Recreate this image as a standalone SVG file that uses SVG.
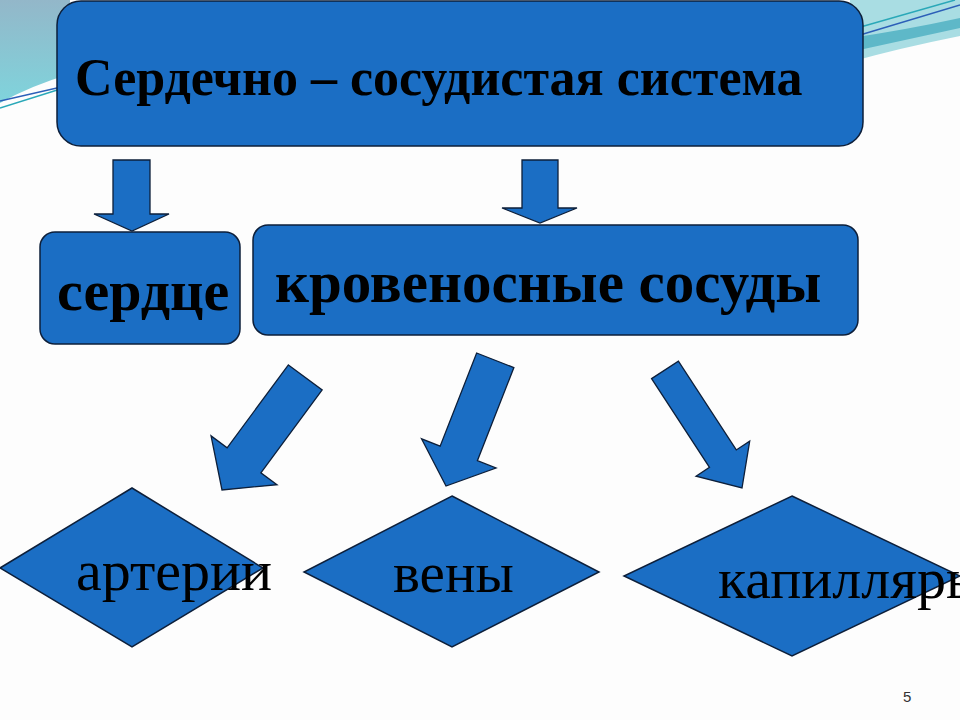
<svg xmlns="http://www.w3.org/2000/svg" width="960" height="720" viewBox="0 0 960 720">
  <defs>
    <linearGradient id="tl" x1="0" y1="0" x2="0" y2="1">
      <stop offset="0" stop-color="#93b7c9"/>
      <stop offset="1" stop-color="#7fd4dc"/>
    </linearGradient>
    <style>
      .box { fill: #1b6ec4; stroke: #0d1f3a; stroke-width: 1.5; }
      .arr { fill: #1b6ec4; stroke: #0d1f3a; stroke-width: 1.3; stroke-linejoin: miter; }
      .bold { font-family: "Liberation Serif", "Times New Roman", serif; font-weight: bold; fill: #000; }
      .reg { font-family: "Liberation Serif", "Times New Roman", serif; fill: #000; }
    </style>
  </defs>
  <rect width="960" height="720" fill="#fdfdfd"/>
  <g id="decor">
    <path d="M0,0 L70,0 L70,74 Q30,86 0,103 Z" fill="url(#tl)"/>
    <path d="M0,101 L70,85" stroke="#2c5fb8" stroke-width="1.5" fill="none"/>
    <path d="M0,108 L70,86" stroke="#2aa8b8" stroke-width="1.5" fill="none"/>
    <path d="M850,0 L960,0 L960,36 Q900,48 850,62 Z" fill="#a9dde3"/>
    <path d="M850,38 Q905,30 960,18 L960,28 Q905,40 850,52 Z" fill="#5eb8c8"/>
    <path d="M850,30 L955,0" stroke="#2aa8b8" stroke-width="1.5" fill="none"/>
    <path d="M850,38 L960,5" stroke="#2c5fb8" stroke-width="1.5" fill="none"/>
  </g>
  <g id="connectors">
    <polygon class="arr" points="113,160 150,160 150,214 169,214 132,231 94,214 113,214"/>
    <polygon class="arr" points="522,160 558,160 558,208 577,208 540,223 502,208 522,208"/>
    <g transform="translate(222,490) rotate(36.5)">
      <polygon class="arr" points="-21,-140 21,-140 21,-37 41,-37 0,0 -41,-37 -21,-37"/>
    </g>
    <g transform="translate(446,486) rotate(21.4)">
      <polygon class="arr" points="-20,-135 20,-135 20,-35 40,-35 0,0 -40,-35 -20,-35"/>
    </g>
    <g transform="translate(742,488) rotate(-33.1)">
      <polygon class="arr" points="-16,-141 16,-141 16,-35 32,-35 0,0 -32,-35 -16,-35"/>
    </g>
  </g>
  <g id="system">
    <rect class="box" x="57" y="1" width="806" height="145" rx="24"/>
    <text class="bold" x="75" y="95" font-size="52">Сердечно – сосудистая система</text>
  </g>
  <g id="heart">
    <rect class="box" x="40" y="232" width="200" height="112" rx="15"/>
    <text class="bold" x="57" y="310" font-size="58">сердце</text>
  </g>
  <g id="vessels">
    <rect class="box" x="253" y="225" width="605" height="110" rx="15"/>
    <text class="bold" x="275" y="302" font-size="59">кровеносные сосуды</text>
  </g>
  <g id="arteries">
    <polygon class="box" points="132,488 263,568 132,647 0,568"/>
    <text class="reg" x="76" y="590" font-size="58">артерии</text>
  </g>
  <g id="veins">
    <polygon class="box" points="452,496 599,572 452,647 304,572"/>
    <text class="reg" x="393" y="592" font-size="57">вены</text>
  </g>
  <g id="capillaries">
    <polygon class="box" points="792,496 960,576 792,656 624,576"/>
    <text class="reg" x="718" y="598" font-size="58">капилляры</text>
  </g>
  <text x="903" y="702" font-family="Liberation Sans, Arial, sans-serif" font-size="15" fill="#333">5</text>
</svg>
